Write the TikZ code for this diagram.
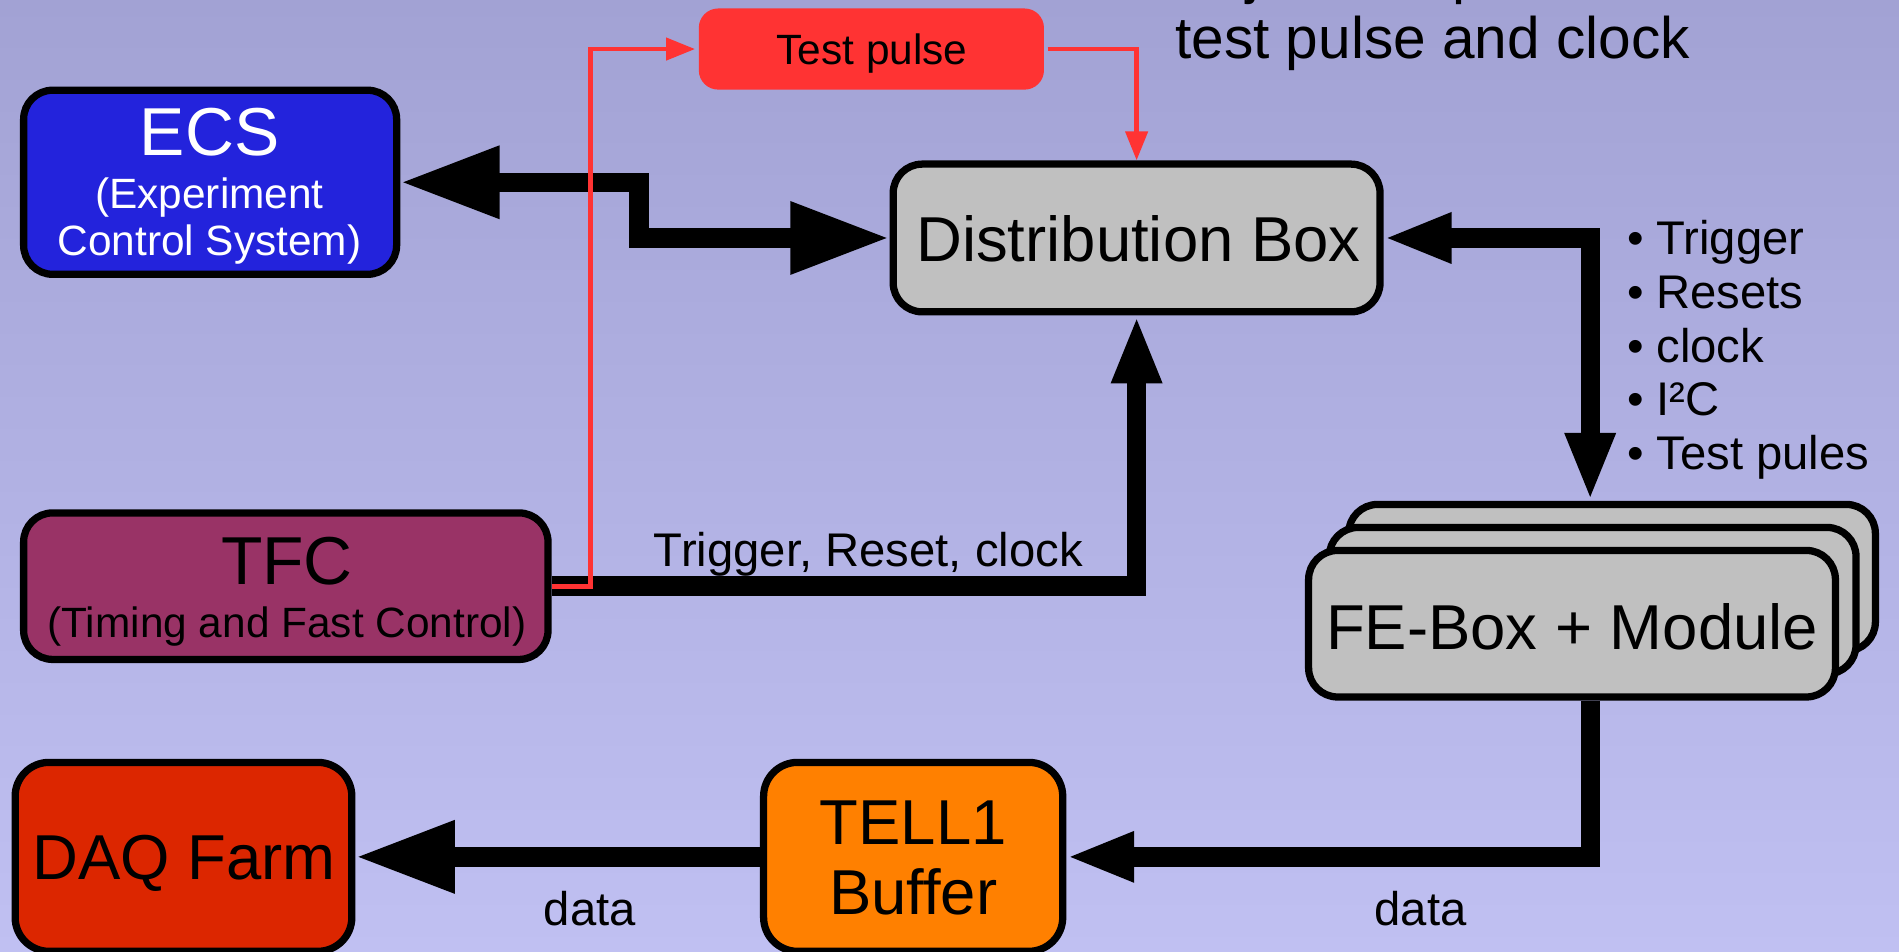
\documentclass[tikz,border=0pt]{standalone}
\usepackage{fontspec}
\setmainfont{Liberation Sans}
\usetikzlibrary{arrows.meta,calc}
\definecolor{bgtop}{RGB}{162,162,212}
\definecolor{bgbot}{RGB}{192,192,242}
\definecolor{ecsblue}{RGB}{35,35,220}
\definecolor{tpred}{RGB}{255,51,51}
\definecolor{distgray}{RGB}{192,192,192}
\definecolor{tfcpurple}{RGB}{153,51,102}
\definecolor{daqred}{RGB}{220,38,0}
\definecolor{tellorange}{RGB}{255,128,0}
\tikzset{
  box/.style={draw=black, line width=3pt, rounded corners=12pt, inner sep=0pt},
  lbl/.style={inner sep=0pt, anchor=base},
  conn/.style={line width=8pt, black},
  redline/.style={line width=2pt, tpred},
  bigboth/.style={{Triangle[length=41pt,width=28pt]}-{Triangle[length=41pt,width=28pt]}},
  medboth/.style={{Triangle[length=28pt,width=19pt]}-{Triangle[length=28pt,width=19pt]}},
  medend/.style={-{Triangle[length=28pt,width=19pt]}},
  bigend/.style={-{Triangle[length=41pt,width=28pt]}},
  redend/.style={-{Triangle[length=12pt,width=9pt]}},
  fs35/.style={font=\fontsize{17.5}{21}\selectfont},
  fs39/.style={font=\fontsize{19.5}{23}\selectfont},
  fs48/.style={font=\fontsize{24.2}{29}\selectfont},
  fs52/.style={font=\fontsize{26.2}{31}\selectfont},
  fs56/.style={font=\fontsize{28}{33}\selectfont},
}
\begin{document}
\begin{tikzpicture}[x=0.5pt,y=-0.5pt]
\useasboundingbox (0,0) rectangle (1568,786);
\clip (0,0) rectangle (1568,786);
\shade[top color=bgtop,bottom color=bgbot] (0,0) rectangle (1568,786);

% boxes
\node[box, fill=ecsblue, minimum width=154pt, minimum height=76pt] (ecs) at (173.5,150.5) {};
\node[box, draw=none, fill=tpred, rounded corners=8pt, minimum width=142.5pt, minimum height=33.5pt] (tp) at (719.5,40.5) {};
\node[box, fill=distgray, minimum width=201pt, minimum height=61pt] (dist) at (938.5,196.5) {};
\node[box, fill=tfcpurple, minimum width=216.5pt, minimum height=60.5pt] (tfc) at (236,484) {};
\node[box, fill=daqred, minimum width=139pt, minimum height=78pt, rounded corners=14pt] (daq) at (151.5,707.5) {};
\node[box, fill=tellorange, minimum width=123.5pt, minimum height=78pt, rounded corners=14pt] (tell) at (754,707.5) {};
\node[box, fill=distgray, minimum width=217.5pt, minimum height=60.5pt] (feback) at (1331,477) {};
\node[box, fill=distgray, minimum width=217.5pt, minimum height=60.5pt] (femid) at (1315,496) {};
\node[box, fill=distgray, minimum width=217.5pt, minimum height=60.5pt] (fefront) at (1298,515) {};

% texts in boxes
\node[lbl, fs56, text=white] (ecst) at (173,128) {ECS};
\node[lbl, fs35, text=white] (ecs2) at (173,172) {(Experiment};
\node[lbl, fs35, text=white] (ecs3) at (173,211) {Control System)};
\node[lbl, fs35] (tpt) at (720,53) {Test pulse};
\node[lbl, fs52] (distt) at (940,216) {Distribution Box};
\node[lbl, fs56] (tfct) at (237,483) {TFC};
\node[lbl, fs35] (tfc2) at (237,526) {(Timing and Fast Control)};
\node[lbl, fs52] (daqt) at (152,726) {DAQ Farm};
\node[lbl, fs52] (tellt) at (754,697) {TELL1};
\node[lbl, fs52] (tell2) at (754,755) {Buffer};
\node[lbl, fs52] (fet) at (1298,536) {FE-Box + Module};

% free labels
\node[lbl, fs39] (trl) at (717,468) {Trigger, Reset, clock};
\node[lbl, fs39] (data1) at (487,764) {data};
\node[lbl, fs39] (data2) at (1173,764) {data};
\node[lbl, fs39, anchor=base west] (b1) at (1343,210) {• Trigger};
\node[lbl, fs39, anchor=base west] (b2) at (1343,255) {• Resets};
\node[lbl, fs39, anchor=base west] (b3) at (1343,299) {• clock};
\node[lbl, fs39, anchor=base west] (b4) at (1343,343) {• I²C};
\node[lbl, fs39, anchor=base west] (b5) at (1343,388) {• Test pules};
\node[lbl, fs48, anchor=base west] (top1) at (970,-6) {Adjust the phase of};
\node[lbl, fs48, anchor=base west] (top2) at (970,48) {test pulse and clock};

% connectors
\coordinate (busx) at (1313,0);
\draw[conn, bigboth] (ecs.east) -- ++(197,0) |- (dist.west);
\draw[conn, medboth] (dist.east) -| (busx |- feback.north);
\draw[conn, medend] (tfc.east) -| (dist.south);
\draw[conn, medend] (busx |- fefront.south) |- (tell.east);
\draw[conn, bigend] (tell.west) -- (daq.east);
\draw[redline, redend] (tfc.east) -- ++(32,0) |- (tp.west);
\draw[redline, redend] (tp.east) -| (dist.north);
\end{tikzpicture}
\end{document}
